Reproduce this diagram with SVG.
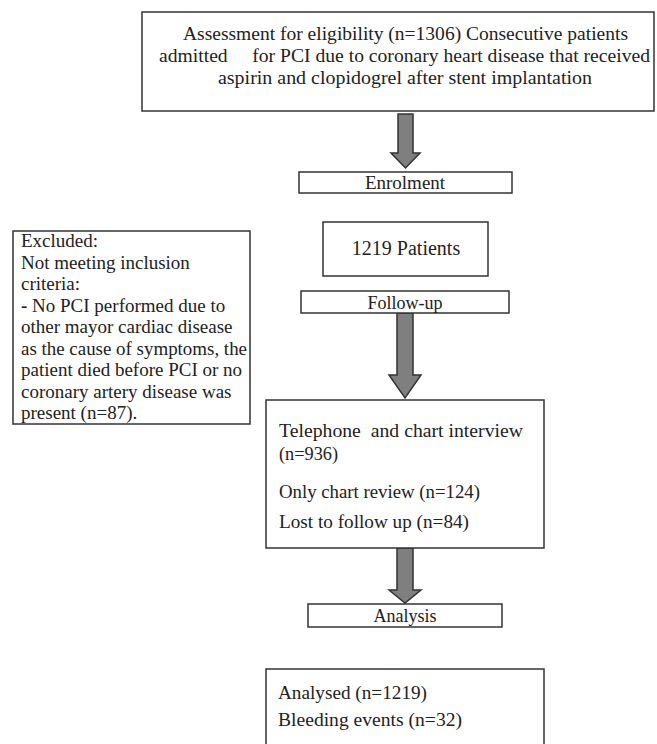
<svg xmlns="http://www.w3.org/2000/svg" width="657" height="744" viewBox="0 0 657 744">
<style>
.box{fill:#fff;stroke:#333;stroke-width:1.5}
.arrow{fill:#7f7f7f;stroke:#333;stroke-width:1.5;stroke-linejoin:miter}
.cam{font-family:"Liberation Serif","DejaVu Serif",serif;font-size:18px;fill:#222}
.tms{font-family:"Liberation Serif","Times New Roman",serif;fill:#222}
</style>
<rect width="657" height="744" fill="#fff"/>
<g id="connectors">
<polygon class="arrow" points="398,114 413,114 413,153 420,153 405.5,168 391,153 398,153"/>
<polygon class="arrow" points="397,313 413,313 413,375 421,375 405,398 389,375 397,375"/>
<polygon class="arrow" points="397,548 413,548 413,590 421,590 405,603 389,590 397,590"/>
</g>
<g id="assessment">
<rect class="box" x="142" y="12" width="512" height="99"/>
<text class="cam" x="405.5" y="40" text-anchor="middle" textLength="445" lengthAdjust="spacingAndGlyphs">Assessment for eligibility (n=1306) Consecutive patients</text>
<text class="cam" x="159" y="62" textLength="491" lengthAdjust="spacingAndGlyphs" xml:space="preserve">admitted     for PCI due to coronary heart disease that received</text>
<text class="cam" x="218" y="84" textLength="374" lengthAdjust="spacingAndGlyphs">aspirin and clopidogrel after stent implantation</text>
</g>
<g id="enrolment">
<rect class="box" x="299" y="172" width="213" height="21"/>
<text class="tms" x="405" y="189" font-size="19" text-anchor="middle">Enrolment</text>
</g>
<g id="patients">
<rect class="box" x="323" y="222" width="165" height="54"/>
<text class="tms" x="406" y="255" font-size="20" text-anchor="middle">1219 Patients</text>
</g>
<g id="followup">
<rect class="box" x="301" y="291" width="208" height="22"/>
<text class="tms" x="405" y="309" font-size="18" text-anchor="middle">Follow-up</text>
</g>
<g id="excluded">
<rect class="box" x="13" y="231" width="237" height="193"/>
<g class="tms" font-size="19">
<text x="21" y="247">Excluded:</text>
<text x="21" y="268.5">Not meeting inclusion</text>
<text x="21" y="290">criteria:</text>
<text x="21" y="311.5"><tspan font-weight="bold">-</tspan> No PCI performed due to</text>
<text x="21" y="333">other mayor cardiac disease</text>
<text x="21" y="354.5" textLength="226" lengthAdjust="spacingAndGlyphs">as the cause of symptoms, the</text>
<text x="21" y="376">patient died before PCI or no</text>
<text x="21" y="397.5">coronary artery disease was</text>
<text x="21" y="419">present (n=87).</text>
</g>
</g>
<g id="telephone">
<rect class="box" x="266" y="400" width="278" height="148"/>
<text class="cam" x="279" y="437" textLength="244" lengthAdjust="spacingAndGlyphs" xml:space="preserve">Telephone  and chart interview</text>
<text class="cam" x="279" y="460" textLength="59" lengthAdjust="spacingAndGlyphs">(n=936)</text>
<text class="cam" x="279" y="498" textLength="201" lengthAdjust="spacingAndGlyphs">Only chart review (n=124)</text>
<text class="cam" x="279" y="528" textLength="190" lengthAdjust="spacingAndGlyphs">Lost to follow up (n=84)</text>
</g>
<g id="analysis">
<rect class="box" x="308" y="604" width="194" height="23"/>
<text class="tms" x="405" y="622" font-size="18" text-anchor="middle">Analysis</text>
</g>
<g id="analysed">
<rect class="box" x="266" y="669" width="278" height="100"/>
<text class="cam" x="278" y="699" textLength="149" lengthAdjust="spacingAndGlyphs">Analysed (n=1219)</text>
<text class="cam" x="278" y="726" textLength="184" lengthAdjust="spacingAndGlyphs">Bleeding events (n=32)</text>
</g>
</svg>
